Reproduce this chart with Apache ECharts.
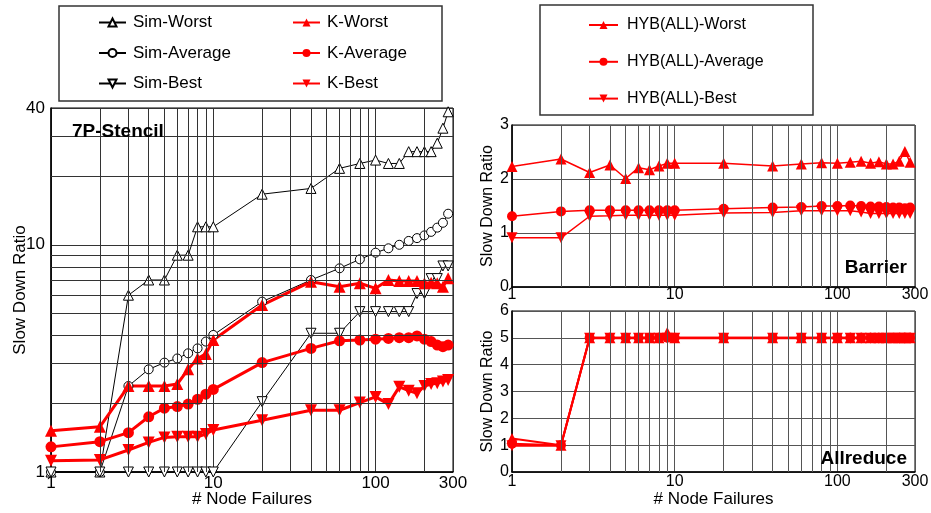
<!DOCTYPE html>
<html><head><meta charset="utf-8">
<script src="https://cdn.jsdelivr.net/npm/echarts@6.0.0/dist/echarts.min.js"></script>
<style>html,body{margin:0;padding:0;background:#fff}#c{width:931px;height:513px}</style>
</head><body><div id="c"></div>
<script>
// ---- data ----
const nodeFailures = [1,2,3,4,5,6,7,8,9,10,20,40,60,80,100,120,140,160,180,200,220,240,260,280];

const simWorst   = [1,1,6.0,7.0,7.0,9.0,9.0,12,12,12,16.7,17.7,21.7,22.8,23.6,22.8,22.8,25.7,25.7,25.7,25.7,28.0,32.6,38.5];
const simAverage = [1,1,2.39,2.83,3.03,3.16,3.33,3.5,3.75,4.01,5.62,7.0,7.88,8.63,9.23,9.65,10.0,10.4,10.7,11.0,11.4,11.9,12.5,13.7];
const simBest    = [1,1,1,1,1,1,1,1,1,1,2.04,4.08,4.08,5.08,5.08,5.08,5.08,5.08,6.1,6.1,7.1,7.1,8.07,8.07];
const kWorst     = [1.52,1.58,2.39,2.39,2.39,2.44,2.83,3.16,3.31,3.81,5.43,6.88,6.54,6.77,6.43,7.0,6.93,6.93,6.93,6.77,6.8,6.77,6.54,7.12];
const kAverage   = [1.29,1.36,1.49,1.75,1.91,1.94,1.99,2.09,2.2,2.31,3.03,3.5,3.78,3.81,3.84,3.87,3.9,3.9,3.97,3.84,3.75,3.62,3.56,3.62];
const kBest      = [1.12,1.13,1.25,1.35,1.42,1.43,1.43,1.43,1.47,1.53,1.69,1.87,1.87,2.02,2.14,1.99,2.37,2.28,2.22,2.39,2.44,2.46,2.5,2.54];

const barWorst   = [2.23,2.37,2.12,2.26,2.01,2.21,2.17,2.24,2.29,2.29,2.29,2.24,2.28,2.30,2.29,2.31,2.33,2.29,2.32,2.28,2.28,2.33,2.51,2.31];
const barAverage = [1.31,1.40,1.42,1.42,1.42,1.42,1.42,1.42,1.42,1.42,1.45,1.47,1.48,1.50,1.50,1.51,1.50,1.49,1.49,1.48,1.47,1.47,1.46,1.47];
const barBest    = [0.91,0.91,1.31,1.32,1.33,1.33,1.33,1.33,1.33,1.33,1.37,1.38,1.41,1.41,1.41,1.41,1.39,1.36,1.36,1.36,1.36,1.36,1.36,1.36];

const allWorst   = [1.25,1.0,5.0,5.0,5.0,5.0,5.0,5.0,5.2,5.0,5.0,5.0,5.0,5.0,5.0,5.0,5.0,5.0,5.0,5.0,5.0,5.0,5.0,5.0];
const allAverage = [1.05,1.0,5.0,5.0,5.0,5.0,5.0,5.0,5.0,5.0,5.0,5.0,5.0,5.0,5.0,5.0,5.0,5.0,5.0,5.0,5.0,5.0,5.0,5.0];
const allBest    = [0.98,0.98,4.98,4.98,4.98,4.98,4.98,4.98,4.98,4.98,4.98,4.98,4.98,4.98,4.98,4.98,4.98,4.98,4.98,4.98,4.98,4.98,4.98,4.98];

// minor log grid positions
const xMinorGrid = [2,3,4,5,6,7,8,9,20,30,40,50,60,70,80,90,200];
const yMinorGridLeft = [2,3,4,5,6,7,8,9,20,30];

// ---- chart ----
const FF = '"Liberation Sans", Arial, Helvetica, sans-serif';
const RED = '#ff0000';
const pairs = ys => nodeFailures.map((x, i) => [x, ys[i]]);

function gridSeries(idx, color, withY) {
  const d = xMinorGrid.map(v => ({ xAxis: v }));
  if (withY) yMinorGridLeft.forEach(v => d.push({ yAxis: v }));
  return {
    type: 'line', xAxisIndex: idx, yAxisIndex: idx, data: [], z: 1, silent: true,
    markLine: {
      symbol: ['none', 'none'], silent: true, animation: false,
      label: { show: false }, emphasis: { disabled: true },
      lineStyle: { color: color, width: 1, type: 'solid' },
      data: d
    }
  };
}

function mkSeries(name, idx, ys, symbol, rotate, size, lineColor, lineWidth, itemStyle) {
  return {
    name, type: 'line', xAxisIndex: idx, yAxisIndex: idx, data: pairs(ys),
    symbol, symbolRotate: rotate, symbolSize: size, showAllSymbol: true,
    lineStyle: { color: lineColor, width: lineWidth },
    itemStyle, z: 3, emphasis: { disabled: true }, animation: false
  };
}

const simStyle = { color: '#fff', borderColor: '#000', borderWidth: 1 };
const redStyle = { color: RED };

function xAxisCfg(grid, fontSize, margin, withName) {
  return {
    type: 'log', logBase: 10, min: 1, max: 300, gridIndex: grid,
    axisLine: { show: true, lineStyle: { color: '#000', width: 1.5 } },
    axisTick: { show: false },
    splitLine: { show: true, lineStyle: { color: grid === 0 ? '#333' : '#555', width: 1 } },
    axisLabel: { color: '#000', fontSize, fontFamily: FF, margin },
    name: withName ? '# Node Failures' : '', nameLocation: 'middle', nameGap: 19, nameMoveOverlap: false,
    nameTextStyle: { color: '#000', fontSize: 17, fontFamily: FF }
  };
}

const option = {
  backgroundColor: '#fff',
  animation: false,
  grid: [
    { left: 51, top: 108, width: 402, height: 364, show: true, borderColor: '#000', borderWidth: 1, containLabel: false, outerBoundsMode: 'none' },
    { left: 512, top: 125, width: 403, height: 162, show: true, borderColor: '#000', borderWidth: 1, containLabel: false, outerBoundsMode: 'none' },
    { left: 512, top: 311, width: 403, height: 161, show: true, borderColor: '#000', borderWidth: 1, containLabel: false, outerBoundsMode: 'none' }
  ],
  xAxis: [ xAxisCfg(0, 17, 3, true), xAxisCfg(1, 16, 0, false), xAxisCfg(2, 16, 2, true) ],
  yAxis: [
    { type: 'log', logBase: 10, min: 1, max: 40, gridIndex: 0,
      axisLine: { show: true, lineStyle: { color: '#000', width: 1.5 } }, axisTick: { show: false },
      splitLine: { show: true, lineStyle: { color: '#333', width: 1 } },
      axisLabel: { color: '#000', fontSize: 17, fontFamily: FF, margin: 6 },
      name: 'Slow Down Ratio', nameLocation: 'middle', nameGap: 22, nameMoveOverlap: false,
      nameTextStyle: { color: '#000', fontSize: 17, fontFamily: FF } },
    { type: 'value', min: 0, max: 3, interval: 1, gridIndex: 1,
      axisLine: { show: true, lineStyle: { color: '#000', width: 1.5 } }, axisTick: { show: false },
      splitLine: { show: true, lineStyle: { color: '#555', width: 1 } },
      axisLabel: { color: '#000', fontSize: 16, fontFamily: FF, margin: 3 },
      name: 'Slow Down Ratio', nameLocation: 'middle', nameGap: 16, nameMoveOverlap: false,
      nameTextStyle: { color: '#000', fontSize: 16, fontFamily: FF } },
    { type: 'value', min: 0, max: 6, interval: 1, gridIndex: 2,
      axisLine: { show: true, lineStyle: { color: '#000', width: 1.5 } }, axisTick: { show: false },
      splitLine: { show: true, lineStyle: { color: '#555', width: 1 } },
      axisLabel: { color: '#000', fontSize: 16, fontFamily: FF, margin: 3 },
      name: 'Slow Down Ratio', nameLocation: 'middle', nameGap: 16, nameMoveOverlap: false,
      nameTextStyle: { color: '#000', fontSize: 16, fontFamily: FF } }
  ],
  legend: [
    { data: ['Sim-Worst', 'Sim-Average', 'Sim-Best'], orient: 'vertical', left: 93, top: 9,
      itemWidth: 27, itemHeight: 10, itemGap: 13.5, selectedMode: false,
      textStyle: { color: '#000', fontSize: 17, lineHeight: 17, fontFamily: FF, padding: [0, 0, 0, 2] } },
    { data: ['K-Worst', 'K-Average', 'K-Best'], orient: 'vertical', left: 287, top: 9,
      itemWidth: 27, itemHeight: 10, itemGap: 13.5, selectedMode: false,
      textStyle: { color: '#000', fontSize: 17, lineHeight: 17, fontFamily: FF, padding: [0, 0, 0, 2] } },
    { data: ['HYB(ALL)-Worst', 'HYB(ALL)-Average', 'HYB(ALL)-Best'], orient: 'vertical', left: 583, top: 12,
      itemWidth: 29, itemHeight: 10, itemGap: 20.8, selectedMode: false,
      textStyle: { color: '#000', fontSize: 16, lineHeight: 16, fontFamily: FF, padding: [0, 0, 0, 4] } }
  ],
  graphic: [
    { type: 'rect', shape: { x: 59, y: 6, width: 383, height: 95 }, style: { fill: 'none', stroke: '#333', lineWidth: 1.5 }, z: 0 },
    { type: 'rect', shape: { x: 540, y: 5, width: 273, height: 110 }, style: { fill: 'none', stroke: '#333', lineWidth: 1.5 }, z: 0 },
    { type: 'text', left: 72, top: 122, style: { text: '7P-Stencil', font: 'bold 19px ' + FF, fill: '#000' }, z: 10 },
    { type: 'text', right: 24, top: 258, style: { text: 'Barrier', font: 'bold 19px ' + FF, fill: '#000' }, z: 10 },
    { type: 'text', right: 24, top: 449, style: { text: 'Allreduce', font: 'bold 19px ' + FF, fill: '#000' }, z: 10 }
  ],
  series: [
    gridSeries(0, '#333', true),
    gridSeries(1, '#555', false),
    gridSeries(2, '#555', false),
    mkSeries('Sim-Worst', 0, simWorst, 'triangle', 0, 10, '#000', 1, simStyle),
    mkSeries('Sim-Average', 0, simAverage, 'circle', 0, 9, '#000', 1, simStyle),
    mkSeries('Sim-Best', 0, simBest, 'triangle', 180, 10, '#000', 1, simStyle),
    mkSeries('K-Worst', 0, kWorst, 'triangle', 0, 12, RED, 3, redStyle),
    mkSeries('K-Average', 0, kAverage, 'circle', 0, 11, RED, 3, redStyle),
    mkSeries('K-Best', 0, kBest, 'triangle', 180, 12, RED, 3, redStyle),
    mkSeries('HYB(ALL)-Worst', 1, barWorst, 'triangle', 0, 11, RED, 1.5, redStyle),
    mkSeries('HYB(ALL)-Average', 1, barAverage, 'circle', 0, 10, RED, 1.5, redStyle),
    mkSeries('HYB(ALL)-Best', 1, barBest, 'triangle', 180, 11, RED, 1.5, redStyle),
    mkSeries('HYB(ALL)-Worst', 2, allWorst, 'triangle', 0, 11, RED, 2, redStyle),
    mkSeries('HYB(ALL)-Average', 2, allAverage, 'circle', 0, 10, RED, 2, redStyle),
    mkSeries('HYB(ALL)-Best', 2, allBest, 'triangle', 180, 11, RED, 2, redStyle)
  ]
};

const chart = echarts.init(document.getElementById('c'), null, { renderer: 'canvas' });
chart.setOption(option);
</script>
</body></html>
